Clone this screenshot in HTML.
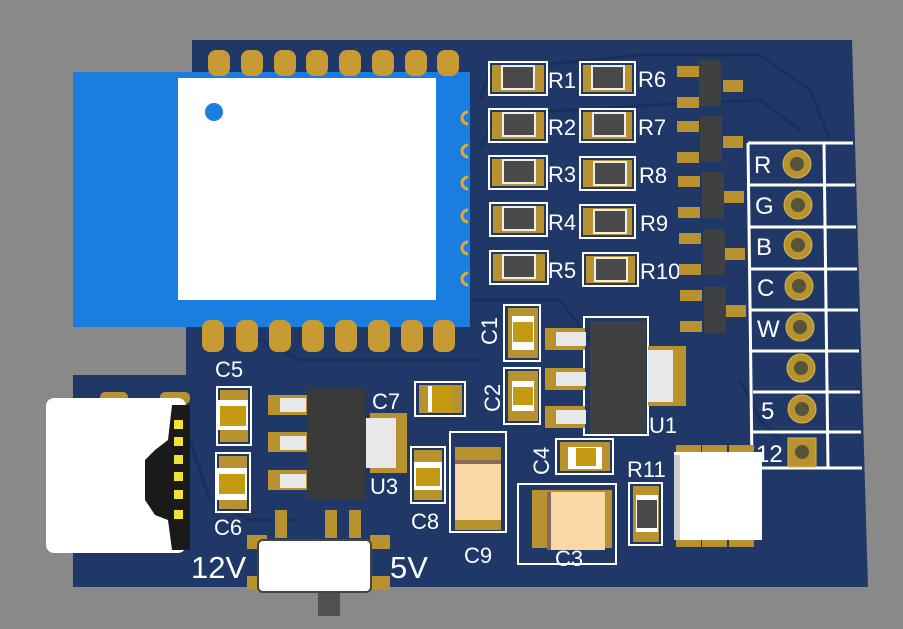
<!DOCTYPE html>
<html><head><style>
html,body{margin:0;padding:0;background:#898989;}
svg{display:block;font-family:"Liberation Sans",sans-serif;}
</style></head><body>
<svg width="903" height="629" viewBox="0 0 903 629" xmlns="http://www.w3.org/2000/svg">
<rect width="903" height="629" fill="#898989"/>
<polygon points="192,40 852,40 868,587 73,587 73,375 186,375 186,327 192,327" fill="#1f3868"/>
<g fill="none" stroke="#17305e" stroke-width="3">
<path d="M480,100 L490,70 L640,55 L760,55 L810,90 L830,140"/>
<path d="M480,150 L495,115 L650,105 L760,100 L800,130"/>
<path d="M740,380 L760,420 L780,440"/>
<path d="M590,340 L560,300 L470,300"/>
<path d="M240,330 L300,360 L480,360"/>
<path d="M190,440 L210,500 L250,520 L300,520"/>
</g>
<rect x="73" y="72" width="397" height="255" fill="#1a7de0"/>
<rect x="178" y="78" width="258" height="222" fill="#fff"/>
<circle cx="214" cy="112" r="9" fill="#1a7de0"/>
<g fill="#c79a33">
<rect x="208" y="50" width="22" height="26" rx="8"/><rect x="241" y="50" width="22" height="26" rx="8"/><rect x="274" y="50" width="22" height="26" rx="8"/><rect x="306" y="50" width="22" height="26" rx="8"/><rect x="339" y="50" width="22" height="26" rx="8"/><rect x="372" y="50" width="22" height="26" rx="8"/><rect x="405" y="50" width="22" height="26" rx="8"/><rect x="437" y="50" width="22" height="26" rx="8"/>
<rect x="202" y="320" width="22" height="32" rx="8"/><rect x="236" y="320" width="22" height="32" rx="8"/><rect x="269" y="320" width="22" height="32" rx="8"/><rect x="302" y="320" width="22" height="32" rx="8"/><rect x="335" y="320" width="22" height="32" rx="8"/><rect x="368" y="320" width="22" height="32" rx="8"/><rect x="401" y="320" width="22" height="32" rx="8"/><rect x="433" y="320" width="22" height="32" rx="8"/>
</g>
<g fill="none" stroke="#e8a62a" stroke-width="3">
<path d="M468,112 a6,6 0 0 0 0,12"/><path d="M468,145 a6,6 0 0 0 0,12"/><path d="M468,177 a6,6 0 0 0 0,12"/><path d="M468,210 a6,6 0 0 0 0,12"/><path d="M468,242 a6,6 0 0 0 0,12"/><path d="M468,273 a6,6 0 0 0 0,12"/>
</g>
<g stroke="#fff" stroke-width="2" fill="none">
<rect x="489" y="62" width="58" height="33"/><rect x="580" y="62" width="55" height="33"/>
<rect x="489" y="109" width="58" height="33"/><rect x="580" y="109" width="55" height="33"/>
<rect x="489" y="156" width="58" height="33"/><rect x="580" y="157" width="55" height="33"/>
<rect x="490" y="203" width="57" height="33"/><rect x="580" y="205" width="55" height="33"/>
<rect x="490" y="251" width="58" height="33"/><rect x="583" y="253" width="55" height="33"/>
</g>
<g fill="#b8922f">
<rect x="492" y="65" width="52" height="27"/><rect x="583" y="65" width="49" height="27"/>
<rect x="492" y="112" width="52" height="27"/><rect x="583" y="112" width="49" height="27"/>
<rect x="492" y="159" width="52" height="27"/><rect x="583" y="160" width="49" height="27"/>
<rect x="493" y="206" width="51" height="27"/><rect x="583" y="208" width="49" height="27"/>
<rect x="493" y="254" width="52" height="27"/><rect x="586" y="256" width="49" height="27"/>
</g>
<g fill="#4a4a4a" stroke="#eee" stroke-width="2">
<rect x="502" y="66" width="32" height="23"/><rect x="592" y="66" width="32" height="23"/>
<rect x="503" y="113" width="32" height="23"/><rect x="593" y="113" width="32" height="23"/>
<rect x="503" y="160" width="32" height="23"/><rect x="594" y="162" width="32" height="23"/>
<rect x="503" y="207" width="32" height="23"/><rect x="594" y="210" width="32" height="23"/>
<rect x="503" y="255" width="32" height="23"/><rect x="595" y="258" width="32" height="23"/>
</g>
<g fill="#fff" font-size="22">
<text x="548" y="88">R1</text><text x="638" y="87">R6</text>
<text x="548" y="135">R2</text><text x="638" y="135">R7</text>
<text x="548" y="182">R3</text><text x="639" y="183">R8</text>
<text x="548" y="230">R4</text><text x="640" y="231">R9</text>
<text x="548" y="278">R5</text><text x="640" y="279">R10</text>
</g>
<g fill="#b8922f">
<rect x="677" y="66" width="22" height="11"/><rect x="677" y="97" width="22" height="11"/><rect x="723" y="80" width="20" height="12"/>
<rect x="677" y="121" width="22" height="11"/><rect x="677" y="152" width="22" height="11"/><rect x="723" y="136" width="20" height="12"/>
<rect x="678" y="176" width="22" height="11"/><rect x="678" y="207" width="22" height="11"/><rect x="724" y="191" width="20" height="12"/>
<rect x="679" y="233" width="22" height="11"/><rect x="679" y="264" width="22" height="11"/><rect x="725" y="248" width="20" height="12"/>
<rect x="680" y="290" width="22" height="11"/><rect x="680" y="321" width="22" height="11"/><rect x="726" y="305" width="20" height="12"/>
</g>
<g fill="#3f4042">
<rect x="699" y="60" width="22" height="46"/><rect x="700" y="116" width="22" height="46"/><rect x="702" y="172" width="22" height="46"/><rect x="703" y="229" width="22" height="46"/><rect x="704" y="287" width="22" height="46"/>
</g>
<g stroke="#fff" stroke-width="3" fill="none">
<path d="M748,143 L853,143 M748,143 L752,465 M748,185 L855,185 M749,227 L856,227 M750,269 L857,269 M751,310 L858,310 M752,351 L859,351 M753,392 L860,392 M753,432 L861,432 M753,468 L862,468 M824,143 L828,468"/>
</g>
<g fill="#fff" font-size="24">
<text x="754" y="173">R</text><text x="755" y="214">G</text><text x="756" y="255">B</text><text x="757" y="296">C</text><text x="757" y="337">W</text><text x="761" y="419">5</text><text x="756" y="462">12</text>
</g>
<g fill="#b8922f" stroke="#d8b84a" stroke-width="1">
<circle cx="797" cy="164" r="14"/><circle cx="798" cy="205" r="14"/><circle cx="798" cy="245" r="14"/><circle cx="799" cy="286" r="14"/><circle cx="800" cy="327" r="14"/><circle cx="801" cy="368" r="14"/><circle cx="802" cy="409" r="14"/><rect x="788" y="438" width="28" height="29"/>
</g>
<g fill="#55543a">
<circle cx="797" cy="164" r="7"/><circle cx="798" cy="205" r="7"/><circle cx="798" cy="245" r="7"/><circle cx="799" cy="286" r="7"/><circle cx="800" cy="327" r="7"/><circle cx="801" cy="368" r="7"/><circle cx="802" cy="409" r="7"/><circle cx="802" cy="452" r="7"/>
</g>
<g fill="#b8922f"><rect x="100" y="392" width="28" height="12" rx="5"/><rect x="160" y="392" width="30" height="12" rx="5"/></g>
<rect x="46" y="398" width="140" height="155" rx="8" fill="#fff"/>
<path d="M172,405 L190,405 L190,550 L172,550 L168,520 L155,515 L145,500 L145,460 L155,450 L168,440 Z" fill="#1a1a1a"/>
<g fill="#f2e233"><rect x="174" y="420" width="9" height="9"/><rect x="174" y="437" width="9" height="9"/><rect x="174" y="455" width="9" height="9"/><rect x="174" y="472" width="9" height="9"/><rect x="174" y="490" width="9" height="9"/><rect x="174" y="510" width="9" height="9"/></g>
<g stroke="#fff" stroke-width="2" fill="none"><rect x="217" y="387" width="34" height="58"/><rect x="216" y="453" width="34" height="59"/></g>
<g fill="#b8922f"><rect x="220" y="390" width="28" height="52"/><rect x="219" y="456" width="28" height="53"/></g>
<g fill="#fff"><rect x="218" y="400" width="30" height="30"/><rect x="217" y="468" width="30" height="32"/></g>
<g fill="#c49a10"><rect x="220" y="406" width="26" height="20"/><rect x="219" y="474" width="26" height="20"/></g>
<g fill="#fff" font-size="22"><text x="215" y="377">C5</text><text x="214" y="535">C6</text><text x="372" y="409">C7</text><text x="370" y="494">U3</text><text x="411" y="529">C8</text><text x="464" y="563">C9</text><text x="555" y="566">C3</text><text x="649" y="433">U1</text><text x="627" y="477">R11</text></g>
<g fill="#b8922f"><rect x="268" y="395" width="40" height="20"/><rect x="268" y="432" width="40" height="20"/><rect x="268" y="470" width="40" height="20"/><rect x="370" y="413" width="37" height="60"/></g>
<g fill="#e8e8e8"><rect x="280" y="398" width="26" height="14"/><rect x="280" y="436" width="26" height="14"/><rect x="280" y="474" width="26" height="14"/><rect x="366" y="418" width="30" height="50"/></g>
<rect x="307" y="387" width="58" height="113" fill="#3a3a3b"/>
<rect x="415" y="382" width="50" height="34" fill="none" stroke="#fff" stroke-width="2"/>
<rect x="419" y="385" width="43" height="28" fill="#b8922f"/><rect x="428" y="386" width="24" height="26" fill="#fff"/><rect x="432" y="386" width="20" height="26" fill="#c49a10"/>
<rect x="411" y="447" width="34" height="56" fill="none" stroke="#fff" stroke-width="2"/>
<rect x="414" y="450" width="28" height="50" fill="#b8922f"/><rect x="414" y="462" width="28" height="28" fill="#fff"/><rect x="416" y="468" width="24" height="18" fill="#c49a10"/>
<rect x="450" y="432" width="56" height="100" fill="none" stroke="#fff" stroke-width="2"/>
<rect x="455" y="447" width="46" height="83" fill="#b8922f"/>
<rect x="455" y="460" width="46" height="60" fill="#f8d9a6"/><rect x="455" y="460" width="46" height="4" fill="#8a6a5a"/>
<rect x="518" y="484" width="98" height="80" fill="none" stroke="#fff" stroke-width="2"/>
<rect x="532" y="490" width="80" height="58" fill="#b8922f"/>
<rect x="547" y="492" width="58" height="58" fill="#f8d9a6"/><rect x="547" y="492" width="4" height="58" fill="#8a6a5a"/>
<g stroke="#fff" stroke-width="2" fill="none"><rect x="504" y="305" width="36" height="56"/><rect x="504" y="368" width="36" height="56"/></g>
<g fill="#b8922f"><rect x="508" y="308" width="30" height="50"/><rect x="508" y="371" width="30" height="50"/></g>
<g fill="#fff"><rect x="512" y="316" width="22" height="34"/><rect x="512" y="381" width="22" height="30"/></g>
<g fill="#c49a10"><rect x="513" y="322" width="20" height="20"/><rect x="513" y="387" width="20" height="18"/></g>
<text x="497" y="345" fill="#fff" font-size="22" transform="rotate(-90 497 345)">C1</text>
<text x="500" y="412" fill="#fff" font-size="22" transform="rotate(-90 500 412)">C2</text>
<text x="549" y="475" fill="#fff" font-size="22" transform="rotate(-90 549 475)">C4</text>
<rect x="584" y="317" width="64" height="118" fill="none" stroke="#fff" stroke-width="2"/>
<g fill="#b8922f"><rect x="545" y="328" width="40" height="22"/><rect x="545" y="368" width="40" height="22"/><rect x="545" y="406" width="40" height="22"/><rect x="648" y="346" width="38" height="60"/></g>
<g fill="#e8e8e8"><rect x="556" y="332" width="30" height="14"/><rect x="556" y="372" width="30" height="14"/><rect x="556" y="410" width="30" height="14"/><rect x="648" y="350" width="25" height="52"/></g>
<rect x="590" y="321" width="56" height="112" fill="#3f4042"/>
<rect x="556" y="439" width="57" height="35" fill="none" stroke="#fff" stroke-width="2"/>
<rect x="560" y="442" width="50" height="29" fill="#b8922f"/><rect x="568" y="447" width="34" height="22" fill="#fff"/><rect x="576" y="448" width="20" height="18" fill="#c49a10"/>
<rect x="629" y="483" width="33" height="62" fill="none" stroke="#fff" stroke-width="2"/>
<rect x="633" y="486" width="26" height="56" fill="#b8922f"/><rect x="636" y="495" width="22" height="37" fill="#fff"/><rect x="637" y="500" width="20" height="28" fill="#4a4a4a"/>
<g fill="#b8922f"><rect x="676" y="445" width="25" height="12"/><rect x="702" y="445" width="25" height="12"/><rect x="729" y="445" width="25" height="12"/><rect x="676" y="535" width="25" height="12"/><rect x="702" y="535" width="25" height="12"/><rect x="729" y="535" width="25" height="12"/></g>
<rect x="674" y="452" width="88" height="88" fill="#fff"/><rect x="674" y="455" width="6" height="85" fill="#ccc"/>
<g fill="#b8922f"><rect x="275" y="510" width="12" height="28"/><rect x="325" y="510" width="12" height="28"/><rect x="349" y="510" width="12" height="28"/><rect x="247" y="535" width="20" height="14"/><rect x="247" y="576" width="20" height="14"/><rect x="370" y="535" width="20" height="14"/><rect x="370" y="576" width="20" height="14"/></g>
<rect x="318" y="590" width="22" height="26" fill="#505050"/>
<rect x="258" y="540" width="113" height="52" rx="5" fill="#fff" stroke="#444" stroke-width="2"/>
<g fill="#fff" font-size="31"><text x="191" y="578">12V</text><text x="390" y="578">5V</text></g>
</svg>
</body></html>
